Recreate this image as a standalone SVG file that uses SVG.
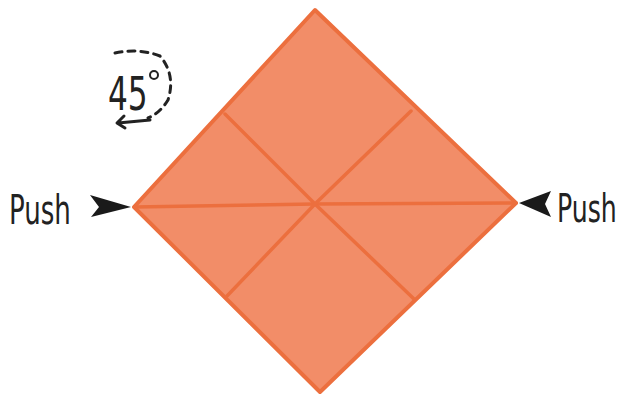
<svg xmlns="http://www.w3.org/2000/svg" width="625" height="398" viewBox="0 0 625 398">
<style>
.lbl{font-family:"DejaVu Sans Condensed","Liberation Sans",sans-serif;fill:#222;font-weight:normal}
.fold{stroke:#EC6F3E;stroke-width:3.5;fill:none;stroke-linecap:round}
.arr{fill:#1a1a1a}
</style>
<rect width="625" height="398" fill="#fff"/>
<g id="diamond">
<polygon points="315,10 516,203 320,392 134,207" fill="#F28D68" stroke="#EC6F3E" stroke-width="4" stroke-linejoin="round"/>
</g>
<g id="folds">
<path class="fold" d="M135,207 L315,204 L516,203"/>
<path class="fold" d="M225,114 L315,204 L414,299"/>
<path class="fold" d="M411,111 L315,204 L227,296"/>
</g>
<g id="push-left">
<g transform="translate(9,224) scale(1,1.4)"><text class="lbl" x="0" y="0" font-size="29">Push</text></g>
<polygon class="arr" points="90,195 131,207 91,217 99,207"/>
</g>
<g id="push-right">
<g transform="translate(557,222) scale(1,1.4)"><text class="lbl" x="0" y="0" font-size="28">Push</text></g>
<polygon class="arr" points="519,203 551,191 545,204 551,217"/>
</g>
<g id="rotation">
<g transform="translate(108,110) scale(1.05,1.4)"><text class="lbl" x="0" y="0" font-size="33">45</text></g>
<circle cx="154" cy="75" r="4" fill="none" stroke="#222" stroke-width="2"/>
<path d="M115,53 Q140,48 160,56 Q176,75 168,100 Q160,113 148,118" fill="none" stroke="#222" stroke-width="3" stroke-dasharray="7,6" stroke-linecap="round"/>
<path d="M150,120 L118,123 M124,116 L117,123 L125,128" fill="none" stroke="#222" stroke-width="3" stroke-linecap="round" stroke-linejoin="round"/>
</g>
</svg>
